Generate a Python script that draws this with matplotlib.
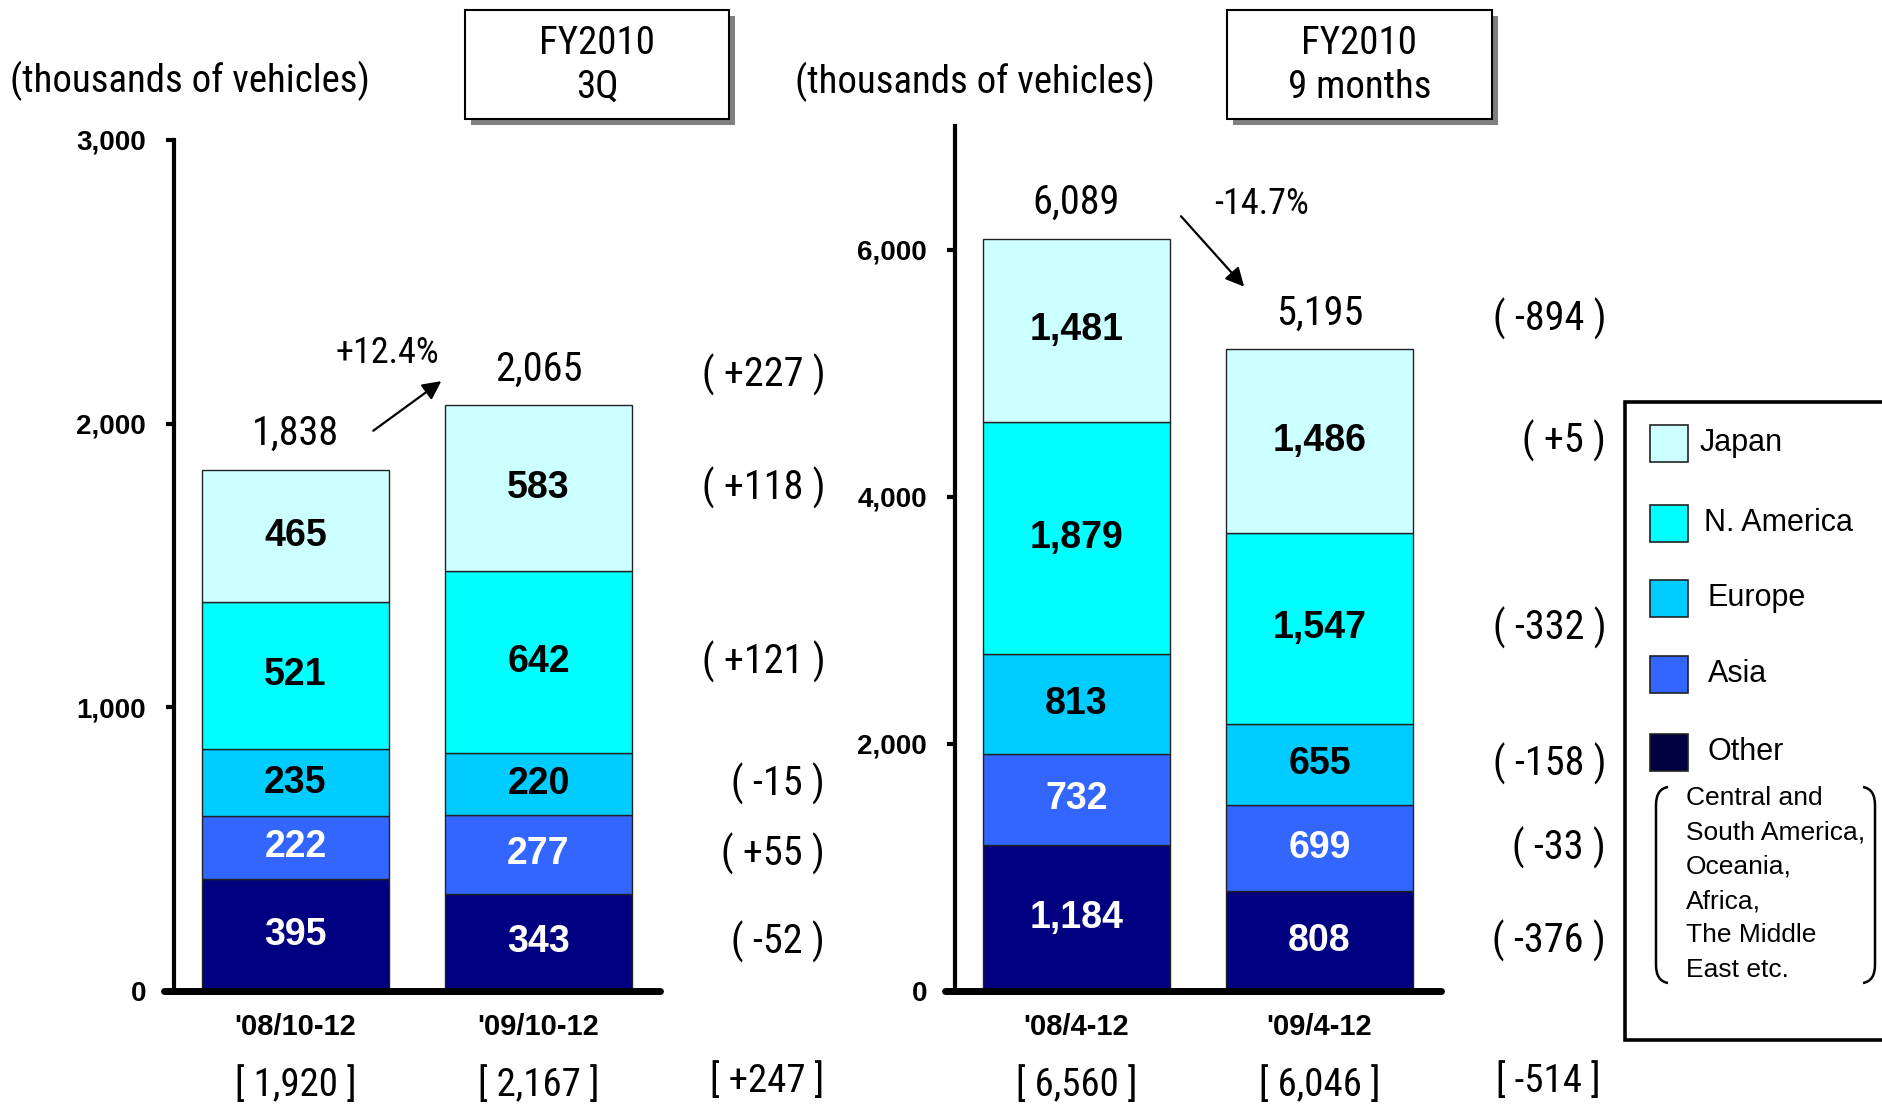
import matplotlib
matplotlib.use('Agg')
import matplotlib.pyplot as plt
from matplotlib import font_manager as fm
from matplotlib.patches import Rectangle, PathPatch
from matplotlib.path import Path

WIDE = ['Liberation Sans', 'DejaVu Sans']


def narrow_font():
    # look for a condensed sans face; plain Liberation Sans, set smaller, otherwise
    names = {f.name for f in fm.fontManager.ttflist}
    for name in ['Liberation Sans Narrow', 'Roboto Condensed', 'Open Sans Condensed']:
        if name in names:
            return dict(family=[name, 'DejaVu Sans']), 1.0
    for f in fm.fontManager.ttflist:
        if f.name in ('Roboto', 'Open Sans', 'DejaVu Sans', 'Noto Sans') and \
                str(f.stretch) in ('condensed', 'semi-condensed'):
            return dict(family=[f.name, 'DejaVu Sans'], stretch=f.stretch), 1.0
    return dict(family=WIDE), 0.86


NARROW, NSCALE = narrow_font()
plt.rcParams['font.family'] = NARROW['family']
if 'stretch' in NARROW:
    plt.rcParams['font.stretch'] = NARROW['stretch']

# regions, bottom of the stack first
regions = ['Other', 'Asia', 'Europe', 'N. America', 'Japan']
colors = ['#000080', '#3366FF', '#00CCFF', '#00FFFF', '#CCFFFF']
text_colors = ['white', 'white', 'black', 'black', 'black']

# Oct-Dec quarter
q_periods = ["'08/10-12", "'09/10-12"]
q_other = [395, 343]
q_asia = [222, 277]
q_europe = [235, 220]
q_namerica = [521, 642]
q_japan = [465, 583]
q_retail = [1920, 2167]

# April-December
m_periods = ["'08/4-12", "'09/4-12"]
m_other = [1184, 808]
m_asia = [732, 699]
m_europe = [813, 655]
m_namerica = [1879, 1547]
m_japan = [1481, 1486]
m_retail = [6560, 6046]

W, H = 1883, 1109
fig = plt.figure(figsize=(W / 100, H / 100), dpi=100)


def ns(size):
    return size * NSCALE


def draw_panel(rect, periods, stacks, retail, ymax, yticks, arrow, pct_xy):
    ax = fig.add_axes(rect)
    x = [0, 1]
    bottom = [0, 0]
    for vals, col, tcol in zip(stacks, colors, text_colors):
        bars = ax.bar(x, vals, width=0.77, bottom=bottom, color=col,
                      edgecolor='#222222', linewidth=1.0, zorder=2)
        for b, v in zip(bars, vals):
            ax.text(b.get_x() + b.get_width() / 2, b.get_y() + v / 2, f'{v:,}',
                    ha='center', va='center', color=tcol, fontsize=27,
                    fontweight='bold', family=WIDE, stretch='normal', zorder=3)
        bottom = [b0 + v for b0, v in zip(bottom, vals)]

    totals = bottom
    for i, t in enumerate(totals):
        ax.annotate(f'{t:,}', (i, t), xytext=(0, 26), textcoords='offset points',
                    ha='center', va='center', fontsize=ns(29))

    # year-on-year change per region, next to the second bar
    cum = 0
    for vals in stacks:
        d = vals[1] - vals[0]
        ax.text(2.18, cum + vals[1] / 2, f'( {d:+,} )', ha='right', va='center',
                fontsize=ns(29), clip_on=False)
        cum += vals[1]
    ax.annotate(f'( {totals[1] - totals[0]:+,} )', (2.18, totals[1]),
                xytext=(0, 22), textcoords='offset points',
                ha='right', va='center', fontsize=ns(29), annotation_clip=False)

    pct = (totals[1] - totals[0]) / totals[0] * 100
    ax.annotate('', xy=arrow[1], xytext=arrow[0],
                arrowprops=dict(arrowstyle='-|>', color='black', lw=1.6,
                                mutation_scale=28, shrinkA=0, shrinkB=0))
    ax.text(pct_xy[0], pct_xy[1], f'{pct:+.1f}%', ha='center', va='center',
            fontsize=ns(26))

    # bracketed figures under the axis
    for i, r in enumerate(retail):
        ax.annotate(f'[ {r:,} ]', (i, 0), xycoords=('data', 'axes fraction'),
                    xytext=(0, -68), textcoords='offset points',
                    ha='center', va='center', fontsize=ns(28), annotation_clip=False)
    ax.annotate(f'[ {retail[1] - retail[0]:+,} ]', (1.94, 0),
                xycoords=('data', 'axes fraction'), xytext=(0, -65),
                textcoords='offset points', ha='center', va='center',
                fontsize=ns(28), annotation_clip=False)

    ax.set_xlim(-0.5, 1.5)
    ax.set_ylim(0, ymax)
    ax.set_xticks(x, periods)
    ax.set_yticks(yticks, [f'{v:,}' for v in yticks])
    for lab in ax.get_xticklabels():
        lab.set_family(WIDE)
        lab.set_stretch('normal')
        lab.set_fontweight('bold')
        lab.set_fontsize(21)
    for lab in ax.get_yticklabels():
        lab.set_family(WIDE)
        lab.set_stretch('normal')
        lab.set_fontweight('bold')
        lab.set_fontsize(20)
    ax.tick_params(axis='x', length=0, pad=16)
    ax.tick_params(axis='y', length=6, width=3, pad=14)
    for s in ['top', 'right']:
        ax.spines[s].set_visible(False)
    ax.spines['left'].set_linewidth(3)
    ax.spines['bottom'].set_linewidth(5)
    ax.spines['bottom'].set_capstyle('round')
    ax.spines['bottom'].set_bounds(-0.54, 1.5)
    ax.spines['left'].set_zorder(4)
    ax.spines['bottom'].set_zorder(4)
    ax.patch.set_visible(False)
    return ax


def fig_rect(x0, y0, x1, y1):
    return [x0 / W, 1 - y1 / H, (x1 - x0) / W, (y1 - y0) / H]


q_stacks = [q_other, q_asia, q_europe, q_namerica, q_japan]
m_stacks = [m_other, m_asia, m_europe, m_namerica, m_japan]

draw_panel(fig_rect(174, 140, 660, 991), q_periods, q_stacks, q_retail,
           3000, [0, 1000, 2000, 3000],
           arrow=((0.32, 1975), (0.60, 2150)), pct_xy=(0.38, 2250))
draw_panel(fig_rect(955, 126, 1441, 991), m_periods, m_stacks, m_retail,
           7000, [0, 2000, 4000, 6000],
           arrow=((0.43, 6270), (0.69, 5700)), pct_xy=(0.76, 6370))

# headers, boxes and legend drawn in pixel space
over = fig.add_axes([0, 0, 1, 1])
over.set_xlim(0, W)
over.set_ylim(H, 0)
over.axis('off')

over.text(10, 81, '(thousands of vehicles)', ha='left', va='center', fontsize=ns(28))
over.text(795, 82, '(thousands of vehicles)', ha='left', va='center', fontsize=ns(28))

for (x0, y0, x1, y1), lines in [((465, 10, 729, 119), ['FY2010', '3Q']),
                                 ((1227, 10, 1492, 119), ['FY2010', '9 months'])]:
    over.add_patch(Rectangle((x0 + 6, y0 + 6), x1 - x0, y1 - y0,
                             facecolor='#808080', edgecolor='none'))
    over.add_patch(Rectangle((x0, y0), x1 - x0, y1 - y0,
                             facecolor='white', edgecolor='black', lw=1.5))
    xc = (x0 + x1) / 2
    over.text(xc, 44, lines[0], ha='center', va='center', fontsize=ns(28))
    over.text(xc, 87, lines[1], ha='center', va='center', fontsize=ns(28))

# legend
over.add_patch(Rectangle((1625, 402), 300, 638, facecolor='white',
                         edgecolor='black', lw=2.6))
leg_rows = [(443, 1700), (523, 1704), (598, 1708), (674, 1708), (752, 1708)]
leg_colors = colors[::-1]
leg_colors[-1] = '#000040'
for (yc, xt), name, col in zip(leg_rows, regions[::-1], leg_colors):
    over.add_patch(Rectangle((1650, yc - 18), 38, 37, facecolor=col,
                             edgecolor='#222222', lw=1.2))
    over.text(xt, yc, name, ha='left', va='center', fontsize=22,
              family=WIDE, stretch='normal')

over.text(1686, 884, 'Central and\nSouth America,\nOceania,\nAfrica,\nThe Middle\nEast etc.',
          ha='left', va='center', fontsize=19, family=WIDE, stretch='normal',
          linespacing=1.54)
for sx, xe in [(1, 1656), (-1, 1875)]:
    xt = xe + sx * 12
    verts = [(xt, 787), (xe, 789), (xe, 805), (xe, 965), (xe, 981), (xt, 983)]
    codes = [Path.MOVETO, Path.CURVE3, Path.CURVE3, Path.LINETO, Path.CURVE3, Path.CURVE3]
    over.add_patch(PathPatch(Path(verts, codes), facecolor='none',
                             edgecolor='black', lw=1.8))

fig.savefig('out.png', dpi=100)
